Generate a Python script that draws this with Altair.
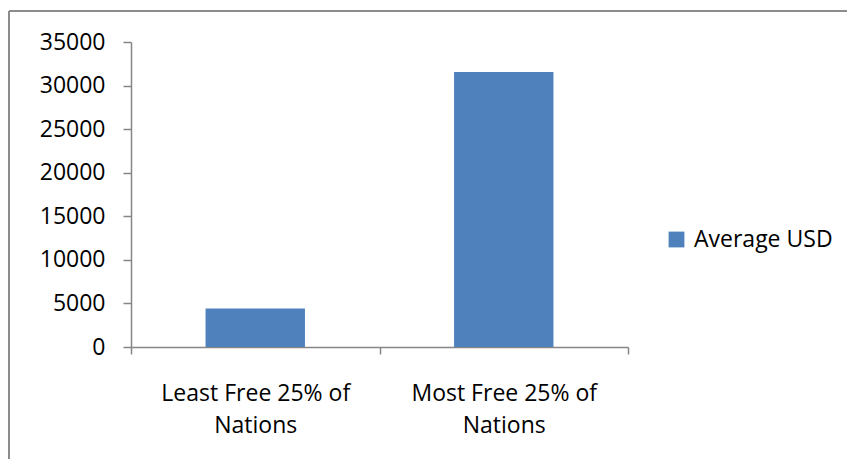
import altair as alt
import pandas as pd

categories = ["Least Free 25% of\nNations", "Most Free 25% of\nNations"]
values = [4420, 31550]
series = ["Average USD", "Average USD"]
y_ticks = [0, 5000, 10000, 15000, 20000, 25000, 30000, 35000]

df = pd.DataFrame({"category": categories, "value": values, "series": series})

FONT = "Open Sans"
AXIS_GRAY = "#868686"

bars = alt.Chart(df).mark_bar(width=alt.RelativeBandSize(0.4)).encode(
    x=alt.X(
        "category:N",
        sort=categories,
        scale=alt.Scale(paddingInner=0, paddingOuter=0),
        axis=alt.Axis(
            title=None,
            labelAngle=0,
            labelExpr="split(datum.label, '\\n')",
            labelFont=FONT,
            labelFontSize=23,
            labelColor="#000000",
            labelLineHeight=32,
            labelPadding=28,
            labelLimit=0,
            tickBand="extent",
            tickSize=7,
            tickColor=AXIS_GRAY,
            domainColor=AXIS_GRAY,
            domainWidth=1.5,
            tickWidth=1.5,
        ),
    ),
    y=alt.Y(
        "value:Q",
        scale=alt.Scale(domain=[0, 35000], nice=False),
        axis=alt.Axis(
            title=None,
            values=y_ticks,
            grid=False,
            format="d",
            labelFont=FONT,
            labelFontSize=23,
            labelColor="#000000",
            labelPadding=18,
            tickSize=8,
            tickColor=AXIS_GRAY,
            domainColor=AXIS_GRAY,
            domainWidth=1.5,
            tickWidth=1.5,
        ),
    ),
    color=alt.Color(
        "series:N",
        scale=alt.Scale(range=["#4F81BD"]),
        legend=alt.Legend(
            title=None,
            orient="none",
            legendX=534,
            legendY=186,
            symbolType="square",
            symbolSize=250,
            symbolStrokeWidth=0,
            labelFont=FONT,
            labelFontSize=23,
            labelColor="#000000",
            labelOffset=6,
            labelLimit=0,
            padding=0,
        ),
    ),
)

border_left = alt.Chart(df).mark_rule(color="#8c8c8c", strokeWidth=2).encode(
    x=alt.value(-122), y=alt.value(-31), y2=alt.value(460)
)
border_top = alt.Chart(df).mark_rule(color="#8c8c8c", strokeWidth=2).encode(
    x=alt.value(-122), x2=alt.value(760), y=alt.value(-31)
)

chart = (
    alt.layer(border_left, border_top, bars)
    .properties(
        width=497,
        height=305,
        autosize=alt.AutoSizeParams(type="none"),
        padding={"left": 131, "top": 42, "right": 219, "bottom": 112},
        background="#ffffff",
    )
    .configure_view(stroke=None)
)

chart.save("out.html", embed_options={"renderer": "svg", "actions": False})
